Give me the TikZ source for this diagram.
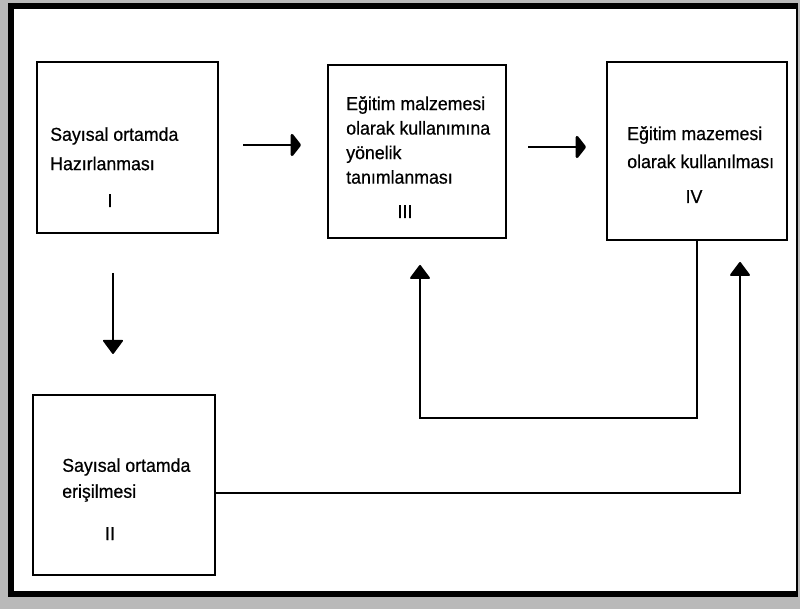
\documentclass[tikz,border=0pt]{standalone}
\usepackage{fontspec}
\setmainfont{Liberation Sans}[FakeBold=0.6, FakeStretch=0.95]
\usetikzlibrary{arrows.meta,fit}

\tikzset{
  box/.style={draw, line width=1.6pt, inner sep=0pt},
  txt/.style={anchor=north west, align=left, inner sep=0pt},
  num/.style={anchor=base, inner sep=0pt, font=\fontsize{14}{16}\selectfont},
  harr/.style={line width=2.2pt, -{Triangle[width=20pt,length=8pt,round]}},
  varr/.style={line width=1.5pt, -{Triangle[width=16pt,length=11pt,round]}},
}

\begin{document}
\begin{tikzpicture}[x=0.75pt, y=-0.75pt]
  \useasboundingbox (0,0) rectangle (800,609);

  % frame
  \fill[gray!55] (0,0) rectangle (800,609);
  \fill[white] (11,6) rectangle (798,593);
  \draw[line width=4.5pt] (798,6.5) -- (11,6.5) -- (11,593.5) -- (798,593.5);
  \draw[line width=1pt] (797,6) -- (797,593);

  % boxes
  \node[box, fit={(37,62) (218,233)}]  (hazir)  {};
  \node[box, fit={(33,395) (215,575)}] (eris)   {};
  \node[box, fit={(328,65) (506,238)}] (tanim)  {};
  \node[box, fit={(607,62) (787,240)}] (kullan) {};

  % texts
  \node[txt, font=\fontsize{14}{22}\selectfont] (t1) at (50,127)
    {Sayısal ortamda\\Hazırlanması};
  \node[num] (n1) at (110,207) {I};

  \node[txt, font=\fontsize{14}{19.5}\selectfont] (t2) at (62,458)
    {Sayısal ortamda\\erişilmesi};
  \node[num] (n2) at (110,540) {II};

  \node[txt, font=\fontsize{14}{18.4}\selectfont] (t3) at (346,96)
    {Eğitim malzemesi\\olarak kullanımına\\yönelik\\tanımlanması};
  \node[num] (n3) at (405,218) {III};

  \node[txt, font=\fontsize{14}{21}\selectfont] (t4) at (627,126)
    {Eğitim mazemesi\\olarak kullanılması};
  \node[num] (n4) at (694,203) {IV};

  % arrow ends
  \coordinate (a1s) at (243,145);
  \coordinate (a1e) at (301,145);
  \coordinate (a2s) at (528,147);
  \coordinate (a2e) at (586,147);
  \coordinate (a3s) at (113,273);
  \coordinate (a3e) at (113,354);
  \coordinate (turn1) at (420,418);
  \coordinate (tip3)  at (420,265);
  \coordinate (turn2) at (740,493);
  \coordinate (tip4)  at (740,262);

  \draw[harr] (a1s) -- (a1e);
  \draw[harr] (a2s) -- (a2e);
  \draw[varr, line width=1.2pt] (a3s) -- (a3e);
  \draw[varr] (kullan.south) |- (turn1) -- (tip3);
  \draw[varr] (eris.east |- turn2) -- (turn2) -- (tip4);
\end{tikzpicture}
\end{document}
